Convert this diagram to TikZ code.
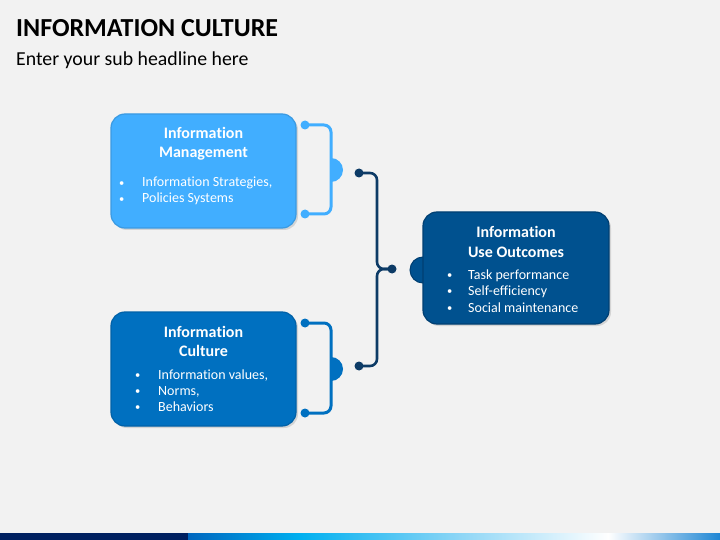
\documentclass[tikz,border=0pt]{standalone}
\usepackage{fontspec}
\setmainfont{Carlito}[Ligatures=NoCommon]
\definecolor{bg}{HTML}{F2F2F2}
\definecolor{lb}{HTML}{41AEFF}
\definecolor{lbline}{HTML}{3A9AE2}
\definecolor{mb}{HTML}{0070C0}
\definecolor{mbline}{HTML}{0061A8}
\definecolor{db}{HTML}{00518F}
\definecolor{dbline}{HTML}{003F72}
\definecolor{navy}{HTML}{0D3B66}
\definecolor{barnavy}{HTML}{002060}
\definecolor{barblue}{HTML}{0066BE}
\definecolor{barcyan}{HTML}{00B0F0}
\definecolor{barlight}{HTML}{8ED6F6}
\definecolor{barend}{HTML}{1E86D4}
\newcommand{\bul}[1]{\makebox[#1][l]{\raisebox{0.5pt}{\scalebox{0.75}{•}}}}
\begin{document}
\begin{tikzpicture}[x=1pt,y=-1pt,
  box/.style={rounded corners=14pt, line width=1.2pt, minimum width=185pt, minimum height=114pt, inner sep=0pt},
  shadowbox/.style={rounded corners=14pt, fill=black, opacity=0.12, minimum width=185pt, minimum height=114pt, inner sep=0pt},
  dot/.style={circle, inner sep=0pt, minimum size=9pt},
  brk/.style={line width=3pt, rounded corners=7pt},
  ttl/.style={anchor=base, text=white, font=\fontsize{16}{19}\selectfont\bfseries, inner sep=0pt},
  itm/.style={anchor=base west, text=white, font=\fontsize{14}{16}\selectfont, inner sep=0pt},
]
\useasboundingbox (0,0) rectangle (720,540);
\fill[bg] (0,0) rectangle (720,540);

% heading
\node[anchor=base west, inner sep=0pt, font=\fontsize{26}{30}\selectfont\bfseries] (title) at (16,37) {INFORMATION CULTURE};
\node[anchor=base west, inner sep=0pt, font=\fontsize{19.8}{24}\selectfont] (sub) at (16,66) {Enter your sub headline here};

% bumps
\begin{scope}
  \clip (331,150) rectangle (350,190);
  \fill[lb] (331,170) circle (12);
\end{scope}
\begin{scope}
  \clip (331,350) rectangle (350,390);
  \fill[mb] (331,369) circle (12);
\end{scope}
\node[circle, fill=db, draw=dbline, line width=1pt, minimum size=26pt, inner sep=0pt] (bumpR) at (423,270) {};

% boxes
\node[shadowbox] at (205.5,173) {};
\node[box, fill=lb, draw=lbline] (boxA) at (203.5,171) {};
\node[shadowbox] at (205.5,371) {};
\node[box, fill=mb, draw=mbline] (boxB) at (203.5,369) {};
\node[shadowbox, minimum width=186pt, minimum height=112pt] at (518,270) {};
\node[box, fill=db, draw=dbline, minimum width=186pt, minimum height=112pt] (boxC) at (516,268) {};

% dots
\node[dot, fill=lb] (a1) at (305,125) {};
\node[dot, fill=lb] (a2) at (305,214) {};
\node[dot, fill=mb] (b1) at (305,323) {};
\node[dot, fill=mb] (b2) at (305,413) {};
\node[dot, fill=navy] (c1) at (359,173) {};
\node[dot, fill=navy] (c2) at (359,366) {};
\node[dot, fill=navy] (cm) at (392,269) {};

% brackets
\draw[brk, lb] (a1.center) -- (331,125) -- (331,214) -- (a2.center);
\draw[brk, mb] (b1.center) -- (331,323) -- (331,413) -- (b2.center);
\draw[brk, navy, line width=2.6pt] (c1.center) -- (377,173) -- (377,269) -- (cm.center);
\draw[brk, navy, line width=2.6pt] (c2.center) -- (377,366) -- (377,269) -- (cm.center);

% box A text
\node[ttl] (a_t1) at (203.5,139) {Information};
\node[ttl] (a_t2) at (203.5,158) {Management};
\node[itm] (a_i1) at (119,187) {\bul{23pt}Information Strategies,};
\node[itm] (a_i2) at (119,203) {\bul{23pt}Policies Systems};

% box B text
\node[ttl] (b_t1) at (203.5,337) {Information};
\node[ttl] (b_t2) at (203.5,356) {Culture};
\node[itm] (b_i1) at (135,379) {\bul{23pt}Information values,};
\node[itm] (b_i2) at (135,395) {\bul{23pt}Norms,};
\node[itm] (b_i3) at (135,411) {\bul{23pt}Behaviors};

% box C text
\node[ttl] (c_t1) at (516,237) {Information};
\node[ttl] (c_t2) at (516,257) {Use Outcomes};
\node[itm] (c_i1) at (447,279) {\bul{21pt}Task performance};
\node[itm] (c_i2) at (447,295) {\bul{21pt}Self-efficiency};
\node[itm] (c_i3) at (447,312) {\bul{21pt}Social maintenance};

% bottom bar
\fill[barnavy] (0,533) rectangle (188,540);
\shade[left color=barblue, right color=barcyan] (188,533) rectangle (300.5,540);
\shade[left color=barcyan, right color=barlight] (300,533) rectangle (460.5,540);
\shade[left color=barlight, right color=white] (460,533) rectangle (608.5,540);
\shade[left color=white, right color=barend] (608,533) rectangle (720,540);
\end{tikzpicture}
\end{document}
